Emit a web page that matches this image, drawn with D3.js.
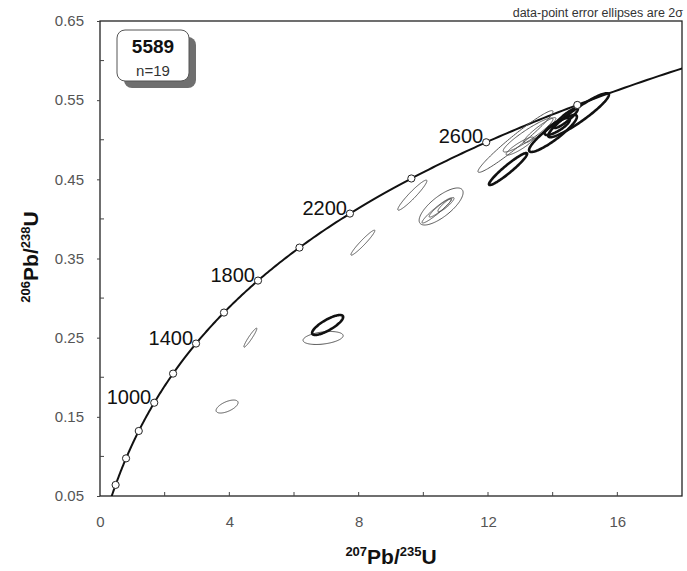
<!DOCTYPE html>
<html>
<head>
<meta charset="utf-8">
<script src="https://cdn.jsdelivr.net/npm/d3@7"></script>
<style>
  body { margin: 0; background: #fff; }
  svg { font-family: Arial, "Liberation Sans", sans-serif; }
</style>
</head>
<body>
<svg id="chart" width="687" height="571"></svg>
<script>
// concordia plot, sample 5589

// decay constants (per year)
const lambda238 = 1.55125e-10;
const lambda235 = 9.8485e-10;

// concordia age marks (Ma) and which ones get a label
const markAges = [400, 600, 800, 1000, 1200, 1400, 1600, 1800, 2000, 2200, 2400, 2600, 2800];
const labelAges = [1000, 1400, 1800, 2200, 2600];

// axis ticks
const xTicks = [0, 4, 8, 12, 16];
const yTicks = [0.05, 0.15, 0.25, 0.35, 0.45, 0.55, 0.65];

// analyses: 207Pb/235U, 206Pb/238U, 2s errors, error correlation, bold outline or not
const ptX   = [3.93, 4.65, 7.04, 6.90, 8.13, 9.66, 10.55, 10.42, 10.52, 12.85, 13.24, 12.99, 12.62, 14.01, 14.80, 14.14, 14.41, 10.70, 13.60];
const ptY   = [0.163, 0.250, 0.266, 0.2496, 0.370, 0.430, 0.4157, 0.4106, 0.4137, 0.4978, 0.506, 0.492, 0.463, 0.508, 0.531, 0.5167, 0.5275, 0.418, 0.512];
const errX  = [0.34, 0.20, 0.48, 0.62, 0.37, 0.45, 0.68, 0.46, 0.34, 1.16, 0.77, 0.43, 0.59, 0.74, 0.94, 0.39, 0.37, 0.25, 0.50];
const errY  = [0.0082, 0.012, 0.0126, 0.0082, 0.0158, 0.019, 0.0234, 0.0158, 0.0114, 0.039, 0.0215, 0.0114, 0.0202, 0.0234, 0.0278, 0.0107, 0.0126, 0.009, 0.016];
const rho   = [0.6, 0.95, 0.8, 0.35, 0.96, 0.95, 0.75, 0.95, 0.93, 0.97, 0.93, 0.9, 0.95, 0.9, 0.93, 0.8, 0.9, 0.9, 0.93];
const bold  = [false, false, true, false, false, false, false, false, false, false, false, false, true, true, true, true, true, false, false];

const svg = d3.select("#chart");
const margin = { top: 21, right: 5, bottom: 75, left: 100 };
const W = 687, H = 571;

const x = d3.scaleLinear().domain([0, 18]).range([margin.left, W - margin.right]);
const y = d3.scaleLinear().domain([0.05, 0.65]).range([H - margin.bottom, margin.top]);

// clip so the curve stays inside the frame
svg.append("clipPath").attr("id", "plotclip")
  .append("rect")
  .attr("x", x(0)).attr("y", y(0.65))
  .attr("width", x(18) - x(0)).attr("height", y(0.05) - y(0.65));

// frame
svg.append("rect")
  .attr("x", x(0)).attr("y", y(0.65))
  .attr("width", x(18) - x(0)).attr("height", y(0.05) - y(0.65))
  .attr("fill", "none").attr("stroke", "#222").attr("stroke-width", 1.3);

// y axis: labels and small outside ticks, minor ticks inside
const yAxis = svg.append("g").attr("transform", `translate(${x(0)},0)`)
  .call(d3.axisLeft(y).tickValues(yTicks).tickSize(3).tickPadding(13).tickFormat(d3.format(".2f")));
yAxis.select(".domain").remove();
yAxis.selectAll("text").attr("font-size", 15).attr("fill", "#555").attr("font-family", "Arial, Liberation Sans, sans-serif");
yAxis.selectAll("line").attr("stroke", "#444");

const yMinor = d3.range(0.1, 0.65, 0.1);
svg.append("g").selectAll("line").data(yMinor).join("line")
  .attr("x1", x(0)).attr("x2", x(0) + 4)
  .attr("y1", d => y(d)).attr("y2", d => y(d))
  .attr("stroke", "#444");

// x axis: inside ticks every 2
const xAxis = svg.append("g").attr("transform", `translate(0,${y(0.05)})`)
  .call(d3.axisBottom(x).tickValues(xTicks).tickSize(0).tickPadding(20).tickFormat(d3.format("d")));
xAxis.select(".domain").remove();
xAxis.selectAll("text").attr("font-size", 15).attr("fill", "#555").attr("font-family", "Arial, Liberation Sans, sans-serif");

svg.append("g").selectAll("line").data(d3.range(2, 18, 2)).join("line")
  .attr("x1", d => x(d)).attr("x2", d => x(d))
  .attr("y1", y(0.05)).attr("y2", y(0.05) - 4)
  .attr("stroke", "#444");

// concordia curve
const concX = t => Math.exp(lambda235 * t * 1e6) - 1;
const concY = t => Math.exp(lambda238 * t * 1e6) - 1;
const curveAges = d3.range(250, 3200, 10);

const plot = svg.append("g").attr("clip-path", "url(#plotclip)");

plot.append("path")
  .datum(curveAges)
  .attr("d", d3.line().x(t => x(concX(t))).y(t => y(concY(t))))
  .attr("fill", "none").attr("stroke", "#111").attr("stroke-width", 2);

// error ellipses
const ellipsePath = i => {
  const pts = d3.range(0, 2 * Math.PI + 0.01, Math.PI / 60).map(th => [
    x(ptX[i] + errX[i] * Math.cos(th)),
    y(ptY[i] + errY[i] * (rho[i] * Math.cos(th) + Math.sqrt(1 - rho[i] * rho[i]) * Math.sin(th)))
  ]);
  return d3.line()(pts) + "Z";
};

const order = d3.range(ptX.length).sort((a, b) => bold[a] - bold[b]);
plot.selectAll("path.ell").data(order).join("path")
  .attr("class", "ell")
  .attr("d", i => ellipsePath(i))
  .attr("fill", "none")
  .attr("stroke", i => bold[i] ? "#111" : "#555")
  .attr("stroke-width", i => bold[i] ? 2.6 : 1);

// age markers
plot.selectAll("circle.mark").data(markAges).join("circle")
  .attr("class", "mark")
  .attr("cx", t => x(concX(t))).attr("cy", t => y(concY(t)))
  .attr("r", 3.6)
  .attr("fill", "#fff").attr("stroke", "#222").attr("stroke-width", 1);

svg.append("g").selectAll("text").data(labelAges).join("text")
  .attr("x", t => x(concX(t)) - 3)
  .attr("y", t => y(concY(t)) + 1)
  .attr("text-anchor", "end")
  .attr("font-size", 20)
  .attr("fill", "#111")
  .text(t => t);

// sample box with drop shadow
svg.append("rect").attr("x", 124).attr("y", 37).attr("width", 72).attr("height", 51)
  .attr("rx", 8).attr("fill", "#6f6f6f");
svg.append("rect").attr("x", 117).attr("y", 30).attr("width", 72).attr("height", 51)
  .attr("rx", 8).attr("fill", "#fff").attr("stroke", "#555").attr("stroke-width", 1);
svg.append("text").attr("x", 153).attr("y", 53).attr("text-anchor", "middle")
  .attr("font-size", 19).attr("font-weight", "bold").attr("fill", "#111").text("5589");
svg.append("text").attr("x", 153).attr("y", 76).attr("text-anchor", "middle")
  .attr("font-size", 15).attr("fill", "#333").text("n=19");

// note top right
svg.append("text").attr("x", 683).attr("y", 17).attr("text-anchor", "end")
  .attr("font-size", 12.5).attr("fill", "#333")
  .text("data-point error ellipses are 2\u03c3");

// axis titles
const xTitle = svg.append("text").attr("x", 391).attr("y", 564).attr("text-anchor", "middle")
  .attr("font-weight", "bold").attr("font-size", 21).attr("fill", "#111");
xTitle.append("tspan").attr("font-size", 13).attr("dy", -8).text("207");
xTitle.append("tspan").attr("dy", 8).text("Pb/");
xTitle.append("tspan").attr("font-size", 13).attr("dy", -8).text("235");
xTitle.append("tspan").attr("dy", 8).text("U");

const yTitle = svg.append("text").attr("transform", "translate(38,257) rotate(-90)")
  .attr("text-anchor", "middle")
  .attr("font-weight", "bold").attr("font-size", 21).attr("fill", "#111");
yTitle.append("tspan").attr("font-size", 13).attr("dy", -8).text("206");
yTitle.append("tspan").attr("dy", 8).text("Pb/");
yTitle.append("tspan").attr("font-size", 13).attr("dy", -8).text("238");
yTitle.append("tspan").attr("dy", 8).text("U");
</script>
</body>
</html>
